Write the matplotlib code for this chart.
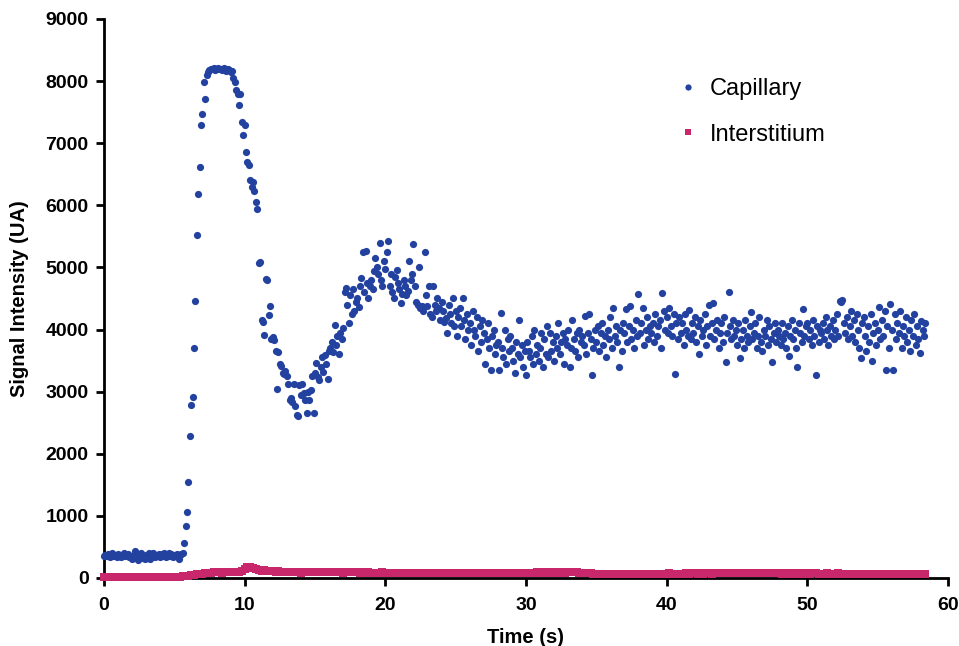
import numpy as np
import matplotlib
matplotlib.use("Agg")
import matplotlib.pyplot as plt
from matplotlib.lines import Line2D

plt.rcParams['font.family'] = ['Liberation Sans', 'DejaVu Sans']

# sampling intervals (s)
DT_CAP = 0.1
DT_INT = 0.2

# capillary signal, one row per second
capillary = [
    360, 375, 350, 390, 340, 365, 395, 355, 370, 345,
    380, 360, 335, 370, 395, 350, 365, 385, 340, 360,
    300, 350, 430, 330, 290, 380, 410, 320, 355, 300,
    370, 340, 395, 310, 360, 400, 330, 375, 350, 390,
    345, 380, 360, 400, 330, 370, 395, 350, 385, 340,
    375, 355, 390, 300, 365, 380, 400, 560, 830, 1070,
    1550, 2280, 2780, 2920, 3710, 4460, 5520, 6180, 6620, 7300,
    7470, 7980, 7710, 8100, 8150, 8180, 8200, 8190, 8210, 8180,
    8200, 8210, 8190, 8200, 8180, 8210, 8190, 8170, 8200, 8180,
    8150, 8160, 8050, 7990, 7860, 7800, 7620, 7800, 7340, 7130,
    7300, 6860, 6700, 6650, 6410, 6300, 6380, 6230, 6050, 5940,
    5070, 5080, 4150, 4120, 3910, 4820, 4800, 4230, 4380, 3850,
    3880, 3830, 3660, 3040, 3640, 3450, 3420, 3300, 3280, 3330,
    3250, 3120, 2870, 2900, 2840, 3120, 2770, 2620, 2600, 3110,
    2950, 3120, 2980, 2870, 2650, 3000, 2870, 3030, 3250, 2650,
    3300, 3460, 3240, 3190, 3400, 3550, 3320, 3590, 3450, 3200,
    3650, 3700, 3800, 3640, 4070, 3750, 3900, 3600, 3950, 3850,
    4020, 4600, 4670, 4400, 4100, 4550, 4250, 4650, 4300, 4450,
    4500, 4360, 4700, 4830, 5250, 4600, 5260, 4750, 4500, 4700,
    4800, 4650, 4950, 5150, 5000, 4900, 5400, 4800, 4700, 5100,
    4980, 5250, 5420, 4700, 4900, 4600, 4500, 4850, 4960, 4750,
    4650, 4430, 4580, 4800, 4700, 4550, 4620, 5100, 4800, 4900,
    5380, 4700, 4450, 4400, 5000, 4350, 4380, 4300, 5250, 4550,
    4380, 4700, 4250, 4200, 4700, 4400, 4300, 4500, 4350, 4150,
    4450, 4300, 4120, 4180, 3950, 4400, 4250, 4100, 4500, 4050,
    4300, 3900, 4200, 4350, 4050, 4500, 4150, 3850, 4250, 4000,
    4100, 3750, 4300, 4000, 3900, 4200, 3650, 4050, 3800, 4150,
    3950, 3450, 3850, 4100, 3700, 3350, 3900, 4000, 3600, 3750,
    3800, 3350, 4270, 3700, 3550, 4000, 3450, 3850, 3650, 3900,
    3700, 3500, 3300, 3800, 3600, 4150, 3550, 3750, 3400, 3650,
    3270, 3800, 3650, 3550, 3900, 3450, 4000, 3600, 3750, 3500,
    3700, 3950, 3400, 3850, 3600, 4050, 3550, 3950, 3650, 3800,
    3500, 3900, 3700, 4100, 3600, 3800, 3950, 3450, 3850, 3750,
    4000, 3390, 3700, 4150, 3850, 3650, 3950, 3550, 4000, 3800,
    3900, 3750, 4220, 3600, 3950, 4250, 3850, 3270, 3700, 4000,
    3800, 4050, 3650, 3950, 4100, 3750, 3900, 3550, 4000, 3850,
    4200, 3700, 4350, 3900, 4050, 3800, 3390, 4000, 3650, 4100,
    3950, 4330, 3800, 4050, 4380, 3850, 4000, 3700, 4150, 3900,
    4570, 3950, 4100, 4350, 3750, 4000, 4200, 3850, 4050, 3950,
    4100, 3800, 4250, 3900, 4050, 4150, 3700, 4590, 4300, 4000,
    4200, 3950, 4350, 4050, 3900, 4250, 3280, 4100, 3850, 4200,
    3950, 4100, 3750, 4250, 4000, 3900, 4320, 3850, 4100, 3950,
    4200, 3800, 4050, 3600, 4150, 3900, 4000, 4250, 3750, 4050,
    4400, 3900, 4100, 4420, 3850, 4000, 4150, 3700, 3950, 4100,
    3800, 4200, 3480, 3950, 4600, 4050, 3850, 4150, 3900, 4000,
    3750, 4100, 3540, 3850, 4000, 3700, 4150, 3900, 3800, 4050,
    4280, 3850, 3950, 4100, 3700, 3900, 4200, 3800, 3650, 4000,
    3900, 4150, 3750, 4050, 3850, 3480, 3950, 4100, 3800, 4000,
    3900, 3750, 4100, 3850, 3950, 3700, 4050, 3570, 3900, 4150,
    3850, 4000, 3700, 3400, 4100, 3950, 3800, 4330, 3900, 4050,
    4100, 3850, 4000, 3750, 4150, 3900, 3270, 4050, 3800, 4000,
    3950, 4100, 3850, 4200, 4000, 3750, 4050, 3900, 4150, 3850,
    4000, 4250, 3900, 4460, 4450, 4470, 4100, 3950, 4200, 3850,
    4050, 4300, 3900, 4150, 3800, 4250, 4000, 3700, 3540, 4100,
    4200, 3900, 3650, 4050, 3800, 4250, 3500, 3950, 4100, 3750,
    4000, 4370, 3850, 4150, 3900, 4300, 3350, 4050, 3700, 4410,
    4000, 3350, 4250, 3850, 4100, 3950, 4300, 3700, 4050, 3900,
    4200, 3800, 4000, 3650, 4150, 3900, 4250, 3750, 4050, 3850,
    3620, 4140, 4000, 3900, 4100,
]

# interstitium signal, five samples per second
interstitium = [
    15, 18, 14, 16, 13,
    17, 15, 19, 14, 16,
    15, 13, 17, 16, 18,
    14, 16, 15, 19, 13,
    17, 15, 18, 16, 20,
    18, 22, 20, 25, 30,
    35, 42, 50, 58, 65,
    72, 80, 85, 88, 92,
    90, 95, 88, 96, 92,
    90, 96, 92, 100, 110,
    150, 172, 175, 160, 140,
    128, 118, 122, 112, 115,
    108, 104, 110, 102, 98,
    96, 100, 94, 90, 95,
    88, 92, 96, 90, 98,
    100, 96, 104, 98, 94,
    92, 98, 96, 90, 94,
    88, 92, 96, 90, 94,
    90, 86, 92, 88, 90,
    84, 88, 82, 86, 90,
    86, 80, 84, 88, 82,
    84, 80, 86, 82, 78,
    82, 86, 80, 84, 88,
    84, 80, 86, 82, 80,
    78, 84, 80, 86, 82,
    80, 84, 78, 82, 86,
    82, 78, 84, 80, 76,
    80, 84, 78, 82, 80,
    84, 80, 86, 82, 88,
    86, 82, 88, 84, 80,
    82, 86, 84, 88, 90,
    86, 90, 84, 88, 92,
    88, 92, 86, 90, 88,
    92, 96, 90, 94, 88,
    86, 82, 78, 74, 70,
    66, 62, 64, 60, 62,
    58, 62, 60, 64, 60,
    62, 58, 64, 60, 66,
    64, 68, 62, 66, 70,
    68, 64, 70, 66, 72,
    70, 74, 68, 72, 70,
    72, 68, 74, 70, 76,
    74, 70, 76, 72, 78,
    76, 72, 78, 74, 80,
    78, 82, 76, 80, 84,
    82, 86, 80, 84, 88,
    84, 80, 86, 82, 78,
    80, 76, 82, 78, 74,
    76, 72, 78, 74, 70,
    72, 76, 70, 74, 72,
    76, 72, 78, 74, 70,
    72, 68, 74, 70, 72,
    70, 74, 68, 72, 70,
    68, 72, 66, 70, 68,
    70, 66, 72, 68, 70,
    68, 72, 70, 66, 70,
    70, 68, 72, 70, 68,
    66, 70, 68, 72, 66,
    68, 70, 66,
]

y_ticks = [0, 1000, 2000, 3000, 4000, 5000, 6000, 7000, 8000, 9000]
x_ticks = [0, 10, 20, 30, 40, 50, 60]

BLUE = "#2342a0"
PINK = "#c8276b"

t_cap = np.arange(len(capillary)) * DT_CAP
t_int = np.arange(len(interstitium)) * DT_INT

fig = plt.figure(figsize=(9.59, 6.46), dpi=100)
ax = fig.add_axes([0.1084, 0.1053, 0.8801, 0.8653])

ax.scatter(t_int, interstitium, s=36, marker='s', color=PINK, linewidths=0, zorder=3, clip_on=False)
ax.scatter(t_cap, capillary, s=27, marker='o', color=BLUE, linewidths=0, zorder=4, clip_on=False)

ax.set_xlim(0, 60)
ax.set_ylim(0, 9000)
ax.set_xticks(x_ticks)
ax.set_yticks(y_ticks)

for side in ['top', 'right']:
    ax.spines[side].set_visible(False)
for side in ['left', 'bottom']:
    ax.spines[side].set_linewidth(2)
    ax.spines[side].set_zorder(2)

ax.tick_params(direction='out', length=6, width=2)
ax.tick_params(axis='x', pad=8)
ax.tick_params(axis='y', pad=5)
for lab in ax.get_xticklabels() + ax.get_yticklabels():
    lab.set_fontweight('bold')
    lab.set_fontsize(14)

ax.set_xlabel("Time (s)", fontsize=14.5, fontweight='bold', labelpad=10)
ax.set_ylabel("Signal Intensity (UA)", fontsize=14.5, fontweight='bold', labelpad=12)

handles = [
    Line2D([], [], linestyle='none', marker='o', markersize=4.5, color=BLUE, markeredgewidth=0),
    Line2D([], [], linestyle='none', marker='s', markersize=4.5, color=PINK, markeredgewidth=0),
]
ax.legend(handles, ["Capillary", "Interstitium"], loc='upper left',
          bbox_to_anchor=(676 / 959, 1 - 78 / 646), bbox_transform=fig.transFigure,
          frameon=False, fontsize=17, handlelength=1.0, handletextpad=0.45,
          labelspacing=1.0, borderaxespad=0, borderpad=0)

fig.savefig("out.png", dpi=100)
